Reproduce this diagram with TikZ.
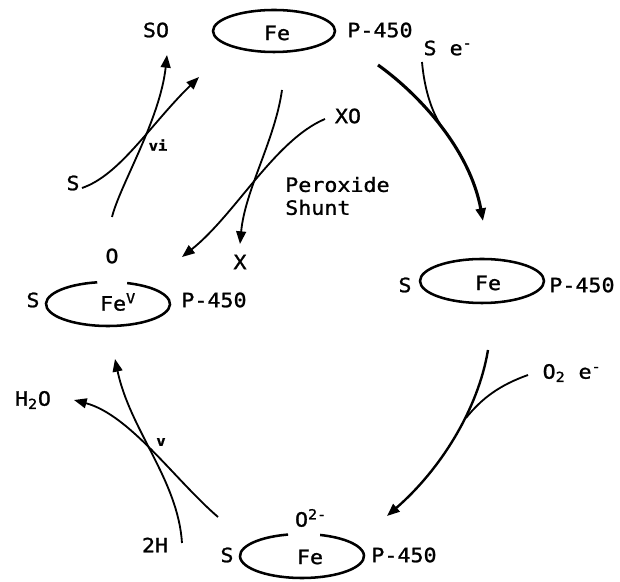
\documentclass[tikz,border=0pt]{standalone}
\usepackage{fontspec}
\setmainfont{DejaVu Sans Mono}[FakeStretch=1.1, FakeBold=1.2]
\usetikzlibrary{arrows.meta}

\begin{document}
\begin{tikzpicture}[
  x=0.025cm, y=0.025cm,
  every node/.style={font=\fontsize{14}{16.3}\selectfont, inner sep=0pt},
  ring/.style={line width=1.8pt},
  flow/.style={line width=1.3pt, -{Triangle[length=9pt,width=7pt]}},
  feed/.style={line width=1.3pt},
  numeral/.style={font=\fontsize{10}{12}\selectfont\bfseries}
]
  \useasboundingbox (0,0) rectangle (620,-582);

  % iron rings
  \coordinate (cTop) at (274,-31);
  \coordinate (cRight) at (482,-281);
  \coordinate (cBottom) at (302,-556);
  \coordinate (cLeft) at (108,-304);
  \draw[ring] (cTop) ellipse [x radius=61, y radius=21];
  \draw[ring] (cRight) ellipse [x radius=62, y radius=22];
  \draw[ring] (cBottom) ++(103:62 and 22)
    arc[start angle=103, end angle=433, x radius=62, y radius=22];
  \draw[ring] (cLeft) ++(100:62 and 22)
    arc[start angle=100, end angle=432, x radius=62, y radius=22];

  % labels
  \node (feTop) at (277,-33) {Fe};
  \node (pTop) at (380,-30) {P-450};
  \node (so) at (156,-30) {SO};
  \node (sE) at (448,-48) {S e\textsuperscript{-}};
  \node (xo) at (348,-116) {XO};
  \node[anchor=west, align=left] (shunt) at (285,-196) {Peroxide\\Shunt};
  \node[numeral] (vi) at (158,-145) {vi};
  \node (sTopLeft) at (73,-183) {S};
  \node (oLeft) at (112,-256) {O};
  \node (x) at (240,-262) {X};
  \node (sLeft) at (33,-300) {S};
  \node (feLeft) at (118,-302) {Fe\textsuperscript{V}};
  \node (pLeft) at (214,-300) {P-450};
  \node (sRight) at (405,-285) {S};
  \node (feRight) at (488,-283) {Fe};
  \node (pRight) at (582,-285) {P-450};
  \node (oE) at (572,-373) {O\textsubscript{2} e\textsuperscript{-}};
  \node (water) at (33,-400) {H\textsubscript{2}O};
  \node[numeral] (v) at (161,-442) {v};
  \node (twoH) at (155,-545) {2H};
  \node (oBottom) at (311,-518) {O\textsuperscript{2-}};
  \node (sBottom) at (227,-555) {S};
  \node (feBottom) at (310,-557) {Fe};
  \node (pBottom) at (404,-555) {P-450};

  % curve ends
  \coordinate (aS) at (82,-188);
  \coordinate (aE) at (199,-77);
  \coordinate (bS) at (112,-217);
  \coordinate (bE) at (167,-55);
  \coordinate (cS) at (282,-90);
  \coordinate (cE) at (240,-244);
  \coordinate (dS) at (325,-119);
  \coordinate (dE) at (182,-257);
  \coordinate (eS) at (378,-65);
  \coordinate (eE) at (483,-221);
  \coordinate (fS) at (422,-62);
  \coordinate (fE) at (440,-124);
  \coordinate (gS) at (488,-350);
  \coordinate (gE) at (387,-516);
  \coordinate (hS) at (528,-375);
  \coordinate (hE) at (466,-418);
  \coordinate (iS) at (182,-543);
  \coordinate (iE) at (115,-359);
  \coordinate (jS) at (218,-517);
  \coordinate (jE) at (74,-400);

  % step vi
  \draw[flow] (aS) .. controls (120,-175) and (150,-125) .. (aE);
  \draw[flow] (bS) .. controls (120,-185) and (160,-120) .. (bE);
  % peroxide shunt
  \draw[flow] (cS) .. controls (275,-140) and (245,-190) .. (cE);
  \draw[flow] (dS) .. controls (275,-140) and (235,-215) .. (dE);
  % substrate binding, first electron
  \draw[flow, line width=2.2pt] (eS) .. controls (420,-95) and (470,-150) .. (eE);
  \draw[feed] (fS) .. controls (424,-85) and (430,-108) .. (fE);
  % oxygen, second electron
  \draw[flow, line width=1.7pt] (gS) .. controls (478,-410) and (440,-470) .. (gE);
  \draw[feed] (hS) .. controls (500,-385) and (482,-398) .. (hE);
  % step v
  \draw[flow] (iS) .. controls (178,-480) and (130,-430) .. (iE);
  \draw[flow] (jS) .. controls (175,-480) and (130,-415) .. (jE);
\end{tikzpicture}
\end{document}
